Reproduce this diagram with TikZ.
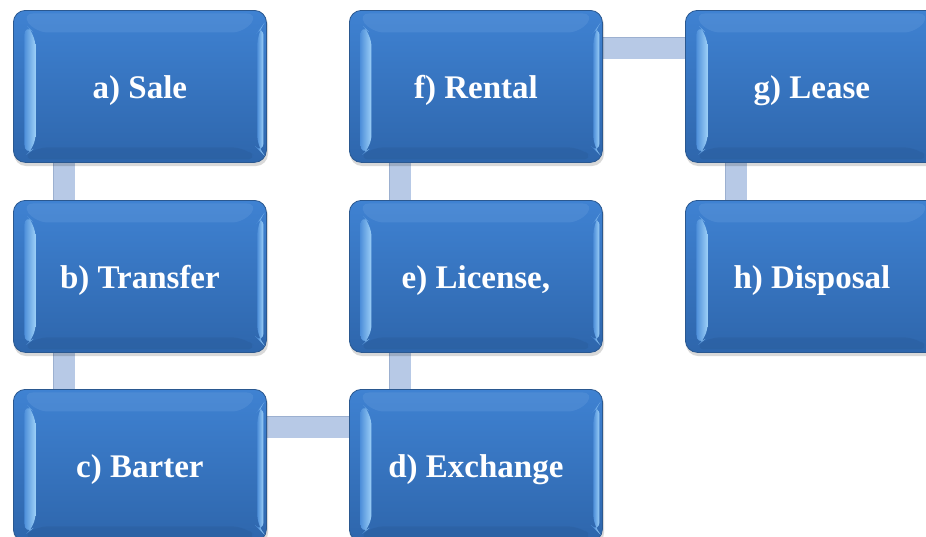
\documentclass[tikz,border=0pt]{standalone}
\usepackage{fontspec}
\setmainfont{Liberation Serif}
\usetikzlibrary{backgrounds}
\definecolor{boxtop}{HTML}{3F82D2}
\definecolor{boxbot}{HTML}{2E66AC}
\definecolor{boxedge}{HTML}{2A5890}
\definecolor{bevlight}{HTML}{9CCFF7}
\definecolor{bevmid}{HTML}{4F90DA}
\definecolor{connfill}{HTML}{B7C9E6}
\definecolor{connedge}{HTML}{9CB0D0}
\tikzset{
  box/.style={minimum width=253pt, minimum height=152pt, rounded corners=12pt,
    draw=boxedge, line width=0.8pt, top color=boxtop, bottom color=boxbot,
    text=white, font=\bfseries\fontsize{33}{33}\selectfont, inner sep=0pt,
    text height=25pt, text depth=0pt,
    anchor=north west,
    path picture={
      % top bevel
      \fill[boxtop!85!white,opacity=0.45]
        ([shift={(8pt,-3pt)}]path picture bounding box.north west) --
        ([shift={(-8pt,-3pt)}]path picture bounding box.north east) --
        ([shift={(-22pt,-22pt)}]path picture bounding box.north east) --
        ([shift={(22pt,-22pt)}]path picture bounding box.north west) -- cycle;
      % bottom bevel
      \fill[boxbot!85!black,opacity=0.3]
        ([shift={(8pt,3pt)}]path picture bounding box.south west) --
        ([shift={(-8pt,3pt)}]path picture bounding box.south east) --
        ([shift={(-22pt,15pt)}]path picture bounding box.south east) --
        ([shift={(22pt,15pt)}]path picture bounding box.south west) -- cycle;
      % left bevel
      \shade[left color=bevmid, right color=bevlight]
        ([shift={(11pt,-13pt)}]path picture bounding box.north west) --
        ([shift={(22pt,-24pt)}]path picture bounding box.north west) --
        ([shift={(22pt,15pt)}]path picture bounding box.south west) --
        ([shift={(11pt,6pt)}]path picture bounding box.south west) -- cycle;
      % right bevel
      \shade[left color=bevmid, right color=bevlight]
        ([shift={(-9pt,-22pt)}]path picture bounding box.north east) --
        ([shift={(-3pt,-14pt)}]path picture bounding box.north east) --
        ([shift={(-3pt,8pt)}]path picture bounding box.south east) --
        ([shift={(-9pt,14pt)}]path picture bounding box.south east) -- cycle;
    }},
  conn/.style={draw=connedge, line width=0.8pt, double=connfill, double distance=21pt},
  shad/.style={fill=black, opacity=0.15, rounded corners=12pt}
}
\begin{document}
\begin{tikzpicture}[x=1pt,y=-1pt]
  \useasboundingbox (0,0) rectangle (926,536);
  \clip (0,0) rectangle (926,536);
  % shadows
  \foreach \cx/\cy in {13/10,13/200,13/389,349/10,349/200,349/389,685/10,685/200}
    \fill[shad] (\cx+1,\cy+3) rectangle (\cx+255,\cy+156);
  \node[box] (a) at (13,10)  {a) Sale};
  \node[box] (b) at (13,200) {b) Transfer};
  \node[box] (c) at (13,389) {c) Barter};
  \node[box] (d) at (349,389) {d) Exchange};
  \node[box] (e) at (349,200) {e) License,};
  \node[box] (f) at (349,10) {f) Rental};
  \node[box] (g) at (685,10) {g) Lease};
  \node[box] (h) at (685,200) {h) Disposal};
  \begin{scope}[on background layer]
    \draw[conn] ([xshift=51pt]a.south west) -- ([xshift=51pt]b.north west);
    \draw[conn] ([xshift=51pt]b.south west) -- ([xshift=51pt]c.north west);
    \draw[conn] ([yshift=-38pt]c.north east) -- ([yshift=-38pt]d.north west);
    \draw[conn] ([xshift=51pt]d.north west) -- ([xshift=51pt]e.south west);
    \draw[conn] ([xshift=51pt]e.north west) -- ([xshift=51pt]f.south west);
    \draw[conn] ([yshift=-38pt]f.north east) -- ([yshift=-38pt]g.north west);
    \draw[conn] ([xshift=51pt]g.south west) -- ([xshift=51pt]h.north west);
  \end{scope}
\end{tikzpicture}
\end{document}
